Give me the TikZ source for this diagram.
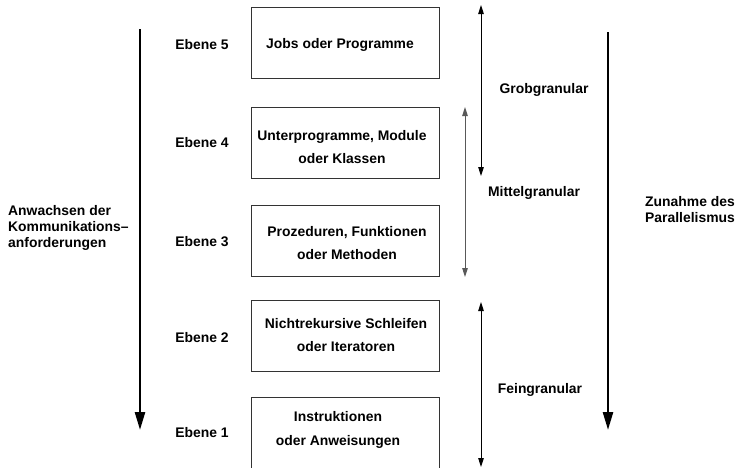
\documentclass[tikz,border=0pt]{standalone}
\usepackage{fontspec}
\setmainfont{Liberation Sans}
\usetikzlibrary{arrows.meta}

\tikzset{
    lbl/.style={font=\bfseries\fontsize{13.9}{16}\selectfont, inner sep=0pt},
    ebox/.style={draw=black!80, line width=0.9pt, minimum width=188pt, minimum height=71pt, inner sep=0pt},
    btext/.style={align=center, inner sep=0pt, font=\bfseries\fontsize{13.9}{23.5}\selectfont},
    bigarrow/.style={line width=2.5pt, -{Triangle[length=18pt,width=10pt]}},
    granarrow/.style={line width=1pt, {Triangle[length=9pt,width=5.5pt]}-{Triangle[length=9pt,width=5.5pt]}}
}

\begin{document}
\begin{tikzpicture}[x=1pt, y=-1pt]
        \useasboundingbox (0,0) rectangle (735,467);

        % Ebenen
        \node[ebox] (box5) at (345,42.5) {};
        \node[ebox] (box4) at (345,143) {};
        \node[ebox] (box3) at (345,240.5) {};
        \node[ebox] (box2) at (345,335.5) {};
        \node[ebox] (box1) at (345,432.5) {};

        \node[btext] (t5) at (340,45) {Jobs oder Programme};
        \node[btext] (t4) at (342,147) {Unterprogramme, Module\\oder Klassen};
        \node[btext] (t3) at (347,243) {Prozeduren, Funktionen\\oder Methoden};
        \node[btext] (t2) at (346,335) {Nichtrekursive Schleifen\\oder Iteratoren};
        \node[btext] (t1) at (338,430) {Instruktionen\\oder Anweisungen};

        \node[lbl] (e5) at (202,45) {Ebene 5};
        \node[lbl] (e4) at (202,143) {Ebene 4};
        \node[lbl] (e3) at (202,242) {Ebene 3};
        \node[lbl] (e2) at (202,338) {Ebene 2};
        \node[lbl] (e1) at (202,433) {Ebene 1};

        % links: Kommunikation
        \coordinate (komTop) at (140,29);
        \coordinate (komBot) at (140,430);
        \draw[bigarrow] (komTop) -- (komBot);
        \node[lbl, align=left, anchor=west] (anw) at (8,228) {Anwachsen der\\Kommunikations–\\anforderungen};

        % rechts: Parallelismus
        \coordinate (parTop) at (608,32);
        \coordinate (parBot) at (608,430);
        \draw[bigarrow] (parTop) -- (parBot);
        \node[lbl, align=left, anchor=west] (zun) at (645,209.5) {Zunahme des\\Parallelismus};

        % Granularitaet
        \coordinate (grobTop) at (481,5);
        \coordinate (grobBot) at (481,176);
        \draw[granarrow] (grobTop) -- (grobBot);
        \node[lbl] (grob) at (544,90) {Grobgranular};

        \coordinate (mittTop) at (465,107);
        \coordinate (mittBot) at (465,277);
        \draw[granarrow, draw=black!65, fill=black!65] (mittTop) -- (mittBot);
        \node[lbl] (mitt) at (534,193) {Mittelgranular};

        \coordinate (feinTop) at (481,302);
        \coordinate (feinBot) at (481,467);
        \draw[granarrow] (feinTop) -- (feinBot);
        \node[lbl] (fein) at (540,390) {Feingranular};
\end{tikzpicture}
\end{document}
